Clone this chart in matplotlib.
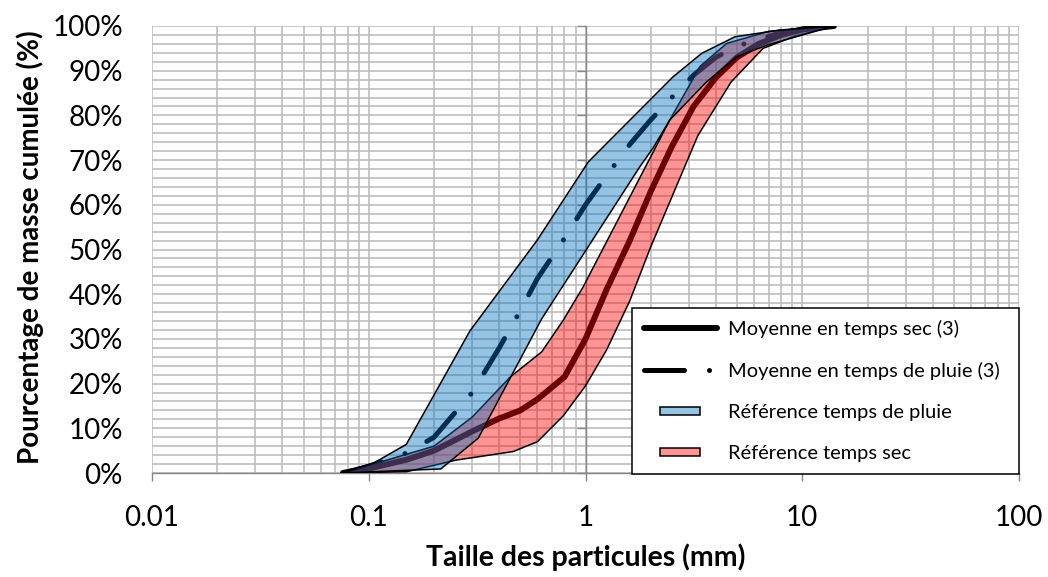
import numpy as np
import matplotlib
matplotlib.use('Agg')
import matplotlib.pyplot as plt
from matplotlib.lines import Line2D
from matplotlib.patches import Patch, Rectangle
from matplotlib.legend_handler import HandlerPatch
from matplotlib.ticker import LogLocator, FixedLocator, MultipleLocator, FixedFormatter, NullFormatter

plt.rcParams['font.family'] = ['Lato', 'DejaVu Sans']

# ---------------- data (particle size in mm, cumulative mass in %) ----------------
mean_x = [0.076, 0.1, 0.15, 0.2, 0.3, 0.4, 0.5, 0.6, 0.8, 1.0, 1.25, 1.6, 2.0, 2.5,
          3.15, 4.0, 5.0, 6.3, 8.0, 10.0, 14.0]
dry_mean_y = [0, 1, 3, 5, 9.3, 12.2, 14.0, 16.5, 21.5, 30, 41, 52, 63, 73,
              82, 88.5, 93, 96, 98, 99.2, 100]
rain_mean_y = [0, 1.5, 4.5, 8, 18, 28, 36.3, 43.5, 52.5, 60, 66.5, 73.5, 79, 84,
               89, 93, 95.5, 97, 98.5, 99.3, 100]

rain_ref_upper_x = [0.076, 0.106, 0.149, 0.293, 0.597, 1.03, 2.53, 3.44, 4.9, 7.9, 14.0]
rain_ref_upper_y = [0, 2.3, 6.4, 31.8, 52, 69.6, 88.6, 93.9, 97.6, 99.1, 100]
rain_ref_lower_x = [0.076, 0.106, 0.149, 0.215, 0.32, 0.628, 1.78, 2.05, 2.45, 3.62, 4.98, 6.85, 14.0]
rain_ref_lower_y = [0, 0.3, 0.6, 0.9, 7.8, 34.5, 68.5, 72.7, 79, 87.5, 93.1, 95.7, 100]

dry_ref_upper_x = [0.076, 0.2, 0.3, 0.45, 0.628, 0.79, 0.977, 2.45, 3.38, 4.48, 7.0, 14.0]
dry_ref_upper_y = [0, 6, 12.5, 21.5, 27.1, 34.2, 41.7, 79, 91, 96.1, 98.8, 100]
dry_ref_lower_x = [0.076, 0.15, 0.254, 0.464, 0.6, 0.79, 1.0, 1.25, 1.6, 2.0, 3.3, 4.7, 6.6, 9.1, 14.0]
dry_ref_lower_y = [0, 0.3, 2.9, 4.8, 7, 12.8, 19.5, 27.5, 38.5, 50.6, 75.5, 87.5, 95, 97.6, 100]

x_ticks = [0.01, 0.1, 1, 10, 100]
x_tick_labels = ['0.01', '0.1', '1', '10', '100']
y_ticks = [0, 10, 20, 30, 40, 50, 60, 70, 80, 90, 100]
y_tick_labels = [f'{v}%' for v in y_ticks]

labels = ['Moyenne en temps sec (3)', 'Moyenne en temps de pluie (3)',
          'Référence temps de pluie', 'Référence temps sec']

BLUE = (0 / 255, 112 / 255, 192 / 255, 0.42)
RED = (1.0, 0.0, 0.0, 0.42)
AXIS_GREY = '#868686'
GRID_GREY = '#BDBDBD'
DASHES = (8, 5, 0.01, 5)

# ---------------- figure ----------------
fig = plt.figure(figsize=(10.48, 5.77), dpi=100)
ax = fig.add_axes([0.14504, 0.18024, 0.82729, 0.77470])
ax.set_xscale('log')
ax.set_xlim(0.01, 100)
ax.set_ylim(0, 100)
ax.set_axisbelow(True)

# mean lines (black, drawn below the translucent reference areas)
ax.plot(mean_x, dry_mean_y, color='black', lw=4.3, solid_capstyle='round',
        solid_joinstyle='round', zorder=2)
ax.plot(mean_x, rain_mean_y, color='black', lw=3.6, dashes=DASHES,
        dash_capstyle='round', solid_joinstyle='round', zorder=2)

# reference envelopes
ax.fill(list(dry_ref_upper_x) + list(dry_ref_lower_x[::-1]),
        list(dry_ref_upper_y) + list(dry_ref_lower_y[::-1]),
        facecolor=RED, edgecolor='black', lw=1.1, zorder=3)
ax.fill(list(rain_ref_upper_x) + list(rain_ref_lower_x[::-1]),
        list(rain_ref_upper_y) + list(rain_ref_lower_y[::-1]),
        facecolor=BLUE, edgecolor='black', lw=1.1, zorder=4)

# ticks / grid
ax.xaxis.set_major_locator(FixedLocator(x_ticks))
ax.xaxis.set_major_formatter(FixedFormatter(x_tick_labels))
ax.xaxis.set_minor_locator(LogLocator(base=10, subs=np.arange(2, 10), numticks=30))
ax.xaxis.set_minor_formatter(NullFormatter())
ax.yaxis.set_major_locator(FixedLocator(y_ticks))
ax.yaxis.set_major_formatter(FixedFormatter(y_tick_labels))
ax.yaxis.set_minor_locator(MultipleLocator(2))
ax.grid(True, which='both', color=GRID_GREY, lw=1.2)

for s in ['top', 'left']:
    ax.spines[s].set_visible(False)
ax.spines['right'].set_position(('data', 1.0))
ax.spines['right'].set_color(AXIS_GREY)
ax.spines['right'].set_linewidth(1.0)
ax.spines['right'].set_zorder(1)
ax.spines['bottom'].set_color(AXIS_GREY)
ax.spines['bottom'].set_linewidth(1.0)
ax.spines['bottom'].set_zorder(1)

ax.tick_params(axis='x', which='major', direction='out', length=6, width=1.0,
               color=AXIS_GREY, labelsize=20, pad=17)
ax.tick_params(axis='x', which='minor', length=0)
ax.tick_params(axis='y', which='major', left=False, right=True, labelleft=True,
               labelright=False, direction='in', length=6.5, width=1.0,
               color=AXIS_GREY, labelsize=20, pad=21)
ax.tick_params(axis='y', which='minor', left=False, right=False)

ax.set_xlabel('Taille des particules (mm)', fontsize=20.5, fontweight='bold')
ax.set_ylabel('Pourcentage de masse cumulée (%)', fontsize=20, fontweight='bold')
ax.xaxis.set_label_coords(0.5, -0.158)
ax.yaxis.set_label_coords(-0.125, 0.505)

# legend
def small_rect(legend, orig_handle, xdescent, ydescent, width, height, fontsize):
    w, h = 28.8, 5.5
    return Rectangle((-xdescent + (width - w) / 2, -ydescent + (height - h) / 2), w, h)

handles = [
    Line2D([], [], color='black', lw=4.3, solid_capstyle='round'),
    Line2D([], [], color='black', lw=3.6, dashes=DASHES, dash_capstyle='round'),
    Patch(facecolor=BLUE, edgecolor='black', lw=1.1),
    Patch(facecolor=RED, edgecolor='black', lw=1.1),
]
leg = ax.legend(handles, labels, loc='lower left', mode='expand',
                bbox_to_anchor=(0.5536, -0.002, 0.4464, 0.382),
                fontsize=14.4, frameon=True, fancybox=False, framealpha=1,
                edgecolor='black', borderpad=0.6, labelspacing=1.2,
                handlelength=3.65, handletextpad=0.55, borderaxespad=0,
                handler_map={Patch: HandlerPatch(patch_func=small_rect)})
leg.get_frame().set_linewidth(1.1)
leg.set_zorder(10)

fig.savefig('out.png', dpi=100)
